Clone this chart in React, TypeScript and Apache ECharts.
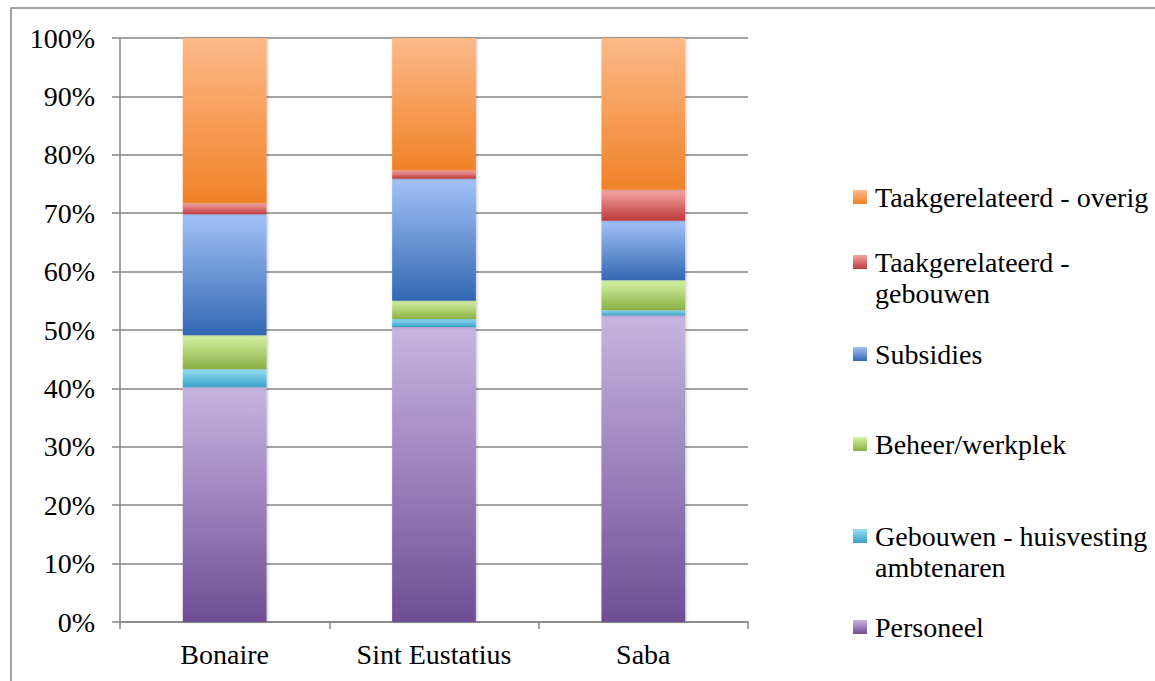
import React, { useEffect, useRef } from "react";
import * as echarts from "echarts";

const categories = ["Bonaire", "Sint Eustatius", "Saba"];
const personeel = [40.2, 50.5, 52.5];
const gebouwenHuisvesting = [3.1, 1.4, 0.9];
const beheerWerkplek = [5.8, 3.1, 5.1];
const subsidies = [20.7, 20.9, 10.2];
const taakGebouwen = [1.9, 1.4, 5.3];
const taakOverig = [28.3, 22.7, 26.0];

const seriesNames = [
  "Personeel",
  "Gebouwen - huisvesting ambtenaren",
  "Beheer/werkplek",
  "Subsidies",
  "Taakgerelateerd - gebouwen",
  "Taakgerelateerd - overig",
];
const seriesData = [personeel, gebouwenHuisvesting, beheerWerkplek, subsidies, taakGebouwen, taakOverig];
const gradients: [string, string][] = [
  ["#C6B5E1", "#6E4E95"],
  ["#98E1F8", "#389FC5"],
  ["#D5F3A6", "#89B044"],
  ["#A3C1F7", "#3268B3"],
  ["#F7A5A5", "#BD3A3A"],
  ["#FDB988", "#F08228"],
];
// legend: first-line label, optional second line, center y
const legendFirst = ["Personeel", "Gebouwen - huisvesting", "Beheer/werkplek", "Subsidies", "Taakgerelateerd -", "Taakgerelateerd - overig"];
const legendSecond = ["", "ambtenaren", "", "", "gebouwen", ""];
const legendY = [627, 536, 444, 354, 262, 197];

const FONT = "Liberation Serif";

export default function App() {
  const ref = useRef<HTMLDivElement>(null);
  useEffect(() => {
    document.body.style.margin = "0";
    if (!ref.current) return;
    const chart = echarts.init(ref.current, null, { renderer: "svg" });
    const grad = (c: [string, string]) =>
      new echarts.graphic.LinearGradient(0, 0, 0, 1, [
        { offset: 0, color: c[0] },
        { offset: 1, color: c[1] },
      ]);
    const series = seriesNames.map((name, i) => ({
      name,
      type: "bar",
      stack: "total",
      barWidth: "40%",
      data: seriesData[i],
      itemStyle: {
        color: grad(gradients[i]),
        shadowBlur: 3,
        shadowColor: "rgba(0,0,0,0.25)",
        shadowOffsetX: 1,
        shadowOffsetY: 0,
      },
    }));
    const legends = seriesNames.map((name, i) => ({
      data: [name],
      left: 853,
      top: legendY[i] - 16,
      orient: "vertical",
      padding: 0,
      icon: "rect",
      itemWidth: 14,
      itemHeight: 14,
      formatter: legendFirst[i],
      selectedMode: false,
      textStyle: {
        fontFamily: FONT,
        fontSize: 28,
        color: "#000",
        lineHeight: 32,
        padding: [0, 0, 0, 3],
      },
    }));
    const secondLines = legendSecond
      .map((t, i) => ({ t, i }))
      .filter((o) => o.t)
      .map((o) => ({
        type: "text",
        left: 875,
        top: legendY[o.i] + 31 - 16,
        style: {
          text: o.t,
          fontFamily: FONT,
          fontSize: 28,
          fill: "#000",
          lineHeight: 32,
        },
      }));
    chart.setOption({
      animation: false,
      backgroundColor: "#fff",
      grid: { left: 120, right: 407, top: 38, bottom: 59 },
      legend: legends,
      xAxis: {
        type: "category",
        data: categories,
        axisLine: { lineStyle: { color: "#868686", width: 1.5 } },
        axisTick: { show: true, length: 7, lineStyle: { color: "#868686", width: 1.5 } },
        axisLabel: { fontFamily: FONT, fontSize: 28, color: "#000", margin: 18 },
      },
      yAxis: {
        type: "value",
        min: 0,
        max: 100,
        interval: 10,
        axisLine: { show: true, lineStyle: { color: "#868686", width: 1.5 } },
        axisTick: { show: true, length: 8, lineStyle: { color: "#868686", width: 1.5 } },
        splitLine: { lineStyle: { color: "#868686", width: 1.5 } },
        axisLabel: { fontFamily: FONT, fontSize: 28, color: "#000", margin: 25, formatter: "{value}%" },
      },
      series,
      graphic: [
        {
          type: "rect",
          shape: { x: 11, y: 8, width: 1300, height: 800 },
          style: { fill: "none", stroke: "#868686", lineWidth: 1.5 },
          silent: true,
          z: -1,
        },
        ...secondLines,
      ],
    });
    return () => chart.dispose();
  }, []);
  return <div ref={ref} style={{ width: 1155, height: 681 }} />;
}
